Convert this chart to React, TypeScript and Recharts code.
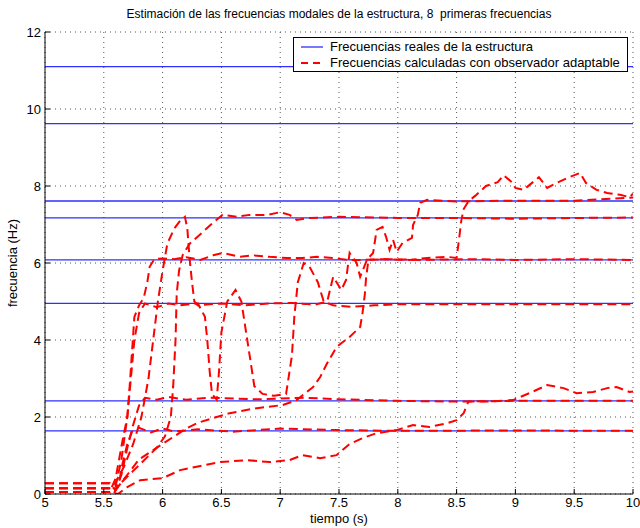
import { LineChart, Line, XAxis, YAxis, CartesianGrid, ReferenceLine } from "recharts"

const FONT = "'Liberation Sans', Arial, Helvetica, sans-serif"

const TITLE = "Estimación de las frecuencias modales de la estructura, 8  primeras frecuencias"
const X_LABEL = "tiempo (s)"
const Y_LABEL = "frecuencia (Hz)"
const LEGEND_REAL = "Frecuencias reales de la estructura"
const LEGEND_EST = "Frecuencias calculadas con observador adaptable"

const TIME_TICKS = [5, 5.5, 6, 6.5, 7, 7.5, 8, 8.5, 9, 9.5, 10]
const FREQ_TICKS = [0, 2, 4, 6, 8, 10, 12]

// natural frequencies of the structure (Hz)
const realFreqs = [1.64, 2.42, 4.95, 6.08, 7.17, 7.61, 9.62, 11.1]

// observer estimates, [time (s), frequency (Hz)]
const est1: [number, number][] = [
  [5, 0.15], [5.55, 0.15], [5.59, 0.05], [5.63, 0.3], [5.66, 0.8], [5.7, 1.3], [5.74, 1.62],
  [5.8, 1.72], [5.9, 1.6], [6.0, 1.7], [6.1, 1.62], [6.3, 1.68], [6.6, 1.62], [7.0, 1.7],
  [7.5, 1.66], [8.0, 1.64], [9.0, 1.65], [10, 1.64],
]

const est2: [number, number][] = [
  [5, 0.28], [5.55, 0.28], [5.6, 0.1], [5.65, 0.5], [5.7, 1.2], [5.75, 1.8], [5.8, 2.3],
  [5.85, 2.5], [5.95, 2.45], [6.05, 2.52], [6.2, 2.45], [6.4, 2.5], [6.8, 2.46], [7.2, 2.5],
  [7.5, 2.46], [8.0, 2.42], [8.5, 2.4], [9, 2.42], [10, 2.42],
]

const est3: [number, number][] = [
  [5, 0.05], [5.55, 0.05], [5.62, 0.0], [5.7, 0.18], [5.81, 0.36], [6.0, 0.41], [6.15, 0.62],
  [6.29, 0.71], [6.49, 0.83], [6.72, 0.88], [6.91, 0.83], [7.08, 0.88], [7.19, 1.01],
  [7.34, 0.93], [7.48, 1.01], [7.59, 1.3], [7.7, 1.45], [7.82, 1.58], [7.99, 1.66],
  [8.13, 1.79], [8.27, 1.74], [8.42, 1.84], [8.5, 1.92], [8.56, 2.1], [8.6, 2.4], [8.76, 2.4],
  [8.98, 2.44], [9.12, 2.62], [9.27, 2.83], [9.41, 2.75], [9.52, 2.62], [9.66, 2.65],
  [9.78, 2.75], [9.86, 2.78], [9.97, 2.65], [10, 2.66],
]

const est4: [number, number][] = [
  [5, 0.15], [5.55, 0.15], [5.6, 0.2], [5.65, 0.9], [5.7, 2.0], [5.73, 3.0], [5.76, 4.0],
  [5.8, 4.7], [5.85, 4.95], [5.95, 4.85], [6.05, 4.95], [6.15, 4.9], [6.3, 4.95], [6.36, 4.6],
  [6.38, 4.0], [6.4, 3.2], [6.42, 2.6], [6.46, 2.45], [6.48, 3.2], [6.5, 4.2], [6.55, 5.0],
  [6.62, 5.3], [6.67, 5.0], [6.7, 4.4], [6.74, 3.6], [6.78, 2.8], [6.85, 2.6], [6.95, 2.55],
  [7.05, 2.6], [7.1, 3.6], [7.12, 4.6], [7.15, 5.5], [7.2, 6.0], [7.25, 5.9], [7.32, 5.5],
  [7.37, 5.0], [7.45, 4.9], [7.6, 4.86], [7.8, 4.9], [8.0, 4.93], [9.0, 4.93], [10, 4.93],
]

const est5: [number, number][] = [
  [5, 0.05], [5.55, 0.05], [5.6, 0.4], [5.63, 0.9], [5.66, 1.4], [5.7, 2.0], [5.72, 2.8],
  [5.74, 3.7], [5.76, 4.6], [5.8, 4.9], [5.84, 5.1], [5.87, 5.5], [5.89, 5.9], [5.93, 6.1],
  [6.0, 6.12], [6.1, 6.1], [6.2, 6.15], [6.32, 6.08], [6.43, 6.2], [6.51, 6.26], [6.66, 6.16],
  [6.77, 6.2], [6.91, 6.16], [7.06, 6.13], [7.19, 6.13], [7.31, 6.16], [7.45, 6.13],
  [7.57, 6.08], [7.68, 6.08], [7.9, 6.1], [8.1, 6.08], [8.25, 6.13], [8.42, 6.16], [8.5, 6.13],
  [8.52, 6.6], [8.54, 7.1], [8.56, 7.4], [8.6, 7.6], [8.66, 7.75], [8.75, 8.0], [8.85, 8.1],
  [8.9, 8.28], [8.97, 8.1], [9.0, 7.95], [9.07, 7.9], [9.2, 8.23], [9.27, 7.95], [9.35, 8.08],
  [9.46, 8.23], [9.55, 8.34], [9.6, 8.08], [9.69, 7.9], [9.78, 7.82], [9.89, 7.77],
  [9.97, 7.71], [10, 7.8],
]

const est6: [number, number][] = [
  [5, 0.28], [5.55, 0.28], [5.6, 0.1], [5.65, 0.3], [5.75, 0.6], [5.85, 0.9], [5.95, 1.2],
  [6.02, 1.5], [6.07, 2.0], [6.09, 2.8], [6.11, 4.0], [6.12, 5.2], [6.14, 5.8], [6.17, 6.2],
  [6.23, 6.5], [6.34, 6.8], [6.43, 7.05], [6.51, 7.25], [6.63, 7.2], [6.74, 7.25],
  [6.89, 7.25], [7.0, 7.32], [7.08, 7.25], [7.14, 7.12], [7.25, 7.17], [7.5, 7.2], [8.0, 7.17],
  [8.5, 7.17], [9, 7.15], [9.5, 7.17], [10, 7.18],
]

const est7: [number, number][] = [
  [5, 0.15], [5.55, 0.15], [5.6, 0.3], [5.67, 0.7], [5.75, 1.3], [5.82, 2.0], [5.88, 3.0],
  [5.92, 4.0], [5.96, 5.0], [6.0, 5.8], [6.04, 6.5], [6.1, 6.9], [6.15, 7.1], [6.19, 7.2],
  [6.21, 6.9], [6.23, 6.1], [6.25, 5.5], [6.27, 5.0], [6.3, 4.9], [6.5, 4.95], [6.7, 4.9],
  [6.9, 4.95], [7.1, 4.96], [7.3, 4.92], [7.4, 5.0], [7.45, 5.64], [7.52, 5.3], [7.56, 5.56],
  [7.59, 6.26], [7.65, 6.0], [7.68, 5.64], [7.74, 6.1], [7.79, 6.26], [7.82, 6.86],
  [7.87, 6.94], [7.9, 6.68], [7.93, 6.34], [7.96, 6.6], [7.99, 6.29], [8.04, 6.52],
  [8.12, 6.65], [8.13, 6.99], [8.17, 7.25], [8.19, 7.56], [8.25, 7.64], [8.5, 7.6],
  [9, 7.62], [9.5, 7.62], [10, 7.7],
]

const est8: [number, number][] = [
  [5, 0.05], [5.55, 0.05], [5.6, 0.1], [5.7, 0.5], [5.8, 0.9], [5.9, 1.1], [6.0, 1.3],
  [6.1, 1.5], [6.2, 1.7], [6.3, 1.85], [6.46, 2.0], [6.57, 2.1], [6.8, 2.23], [7.02, 2.31],
  [7.14, 2.44], [7.28, 2.78], [7.34, 3.04], [7.4, 3.4], [7.48, 3.82], [7.59, 4.08],
  [7.68, 4.34], [7.7, 4.7], [7.72, 5.2], [7.73, 5.6], [7.75, 6.08], [7.9, 6.1], [8.2, 6.08],
  [8.6, 6.1], [9, 6.08], [9.5, 6.1], [10, 6.08],
]

const estimates = [est1, est2, est3, est4, est5, est6, est7, est8]

const toPoints = (pairs: [number, number][]) => pairs.map(([t, f]) => ({ t, f }))

const tickStyle = { fontSize: 13, fill: "#000", fontFamily: FONT }

export default function App() {
  return (
    <div style={{ position: "absolute", left: 0, top: 0, width: 640, height: 528, background: "#fff", fontFamily: FONT }}>
      <LineChart width={640} height={528} margin={{ top: 32, right: 7, bottom: 14, left: 5 }}>
        <CartesianGrid stroke="#555" strokeDasharray="1 4" />
        <XAxis
          dataKey="t"
          type="number"
          domain={[5, 10]}
          ticks={TIME_TICKS}
          allowDataOverflow
          height={20}
          tickSize={-5}
          tickMargin={9}
          tick={tickStyle}
          stroke="#000"
          interval={0}
        />
        <XAxis
          xAxisId="top"
          orientation="top"
          type="number"
          domain={[5, 10]}
          ticks={TIME_TICKS}
          height={0}
          tickSize={-5}
          tickFormatter={() => ""}
          stroke="#000"
          interval={0}
        />
        <YAxis
          dataKey="f"
          type="number"
          domain={[0, 12]}
          ticks={FREQ_TICKS}
          allowDataOverflow
          width={40}
          tickSize={-5}
          tickMargin={9}
          tick={tickStyle}
          stroke="#000"
          interval={0}
        />
        <YAxis
          yAxisId="right"
          orientation="right"
          type="number"
          domain={[0, 12]}
          ticks={FREQ_TICKS}
          width={0}
          tickSize={-5}
          tickFormatter={() => ""}
          stroke="#000"
          interval={0}
        />
        {realFreqs.map((f) => (
          <ReferenceLine key={f} y={f} stroke="#2f2fff" strokeWidth={1.3} />
        ))}
        {estimates.map((est, i) => (
          <Line
            key={i}
            data={toPoints(est)}
            dataKey="f"
            type="linear"
            stroke="#ff0000"
            strokeWidth={2}
            strokeDasharray="9 5"
            dot={false}
            activeDot={false}
            isAnimationActive={false}
          />
        ))}
      </LineChart>

      <div style={{ position: "absolute", left: 45, width: 588, top: 7, textAlign: "center", fontSize: 12, whiteSpace: "pre" }}>
        {TITLE}
      </div>
      <div style={{ position: "absolute", left: 45, width: 588, top: 511, textAlign: "center", fontSize: 13 }}>
        {X_LABEL}
      </div>
      <div
        style={{
          position: "absolute",
          left: 12,
          top: 263,
          fontSize: 13,
          whiteSpace: "nowrap",
          transform: "translate(-50%, -50%) rotate(-90deg)",
        }}
      >
        {Y_LABEL}
      </div>

      <div
        style={{
          position: "absolute",
          left: 293,
          top: 37,
          width: 333,
          height: 33,
          border: "1px solid #000",
          background: "#fff",
          fontSize: 13,
        }}
      >
        <svg width={30} height={33} style={{ position: "absolute", left: 0, top: 0 }}>
          <line x1={7} x2={29} y1={9} y2={9} stroke="#2f2fff" strokeWidth={1.3} />
          <line x1={7} x2={29} y1={25} y2={25} stroke="#ff0000" strokeWidth={2} strokeDasharray="7 5" />
        </svg>
        <div style={{ position: "absolute", left: 36, top: 1, lineHeight: "16px", whiteSpace: "nowrap" }}>{LEGEND_REAL}</div>
        <div style={{ position: "absolute", left: 36, top: 17, lineHeight: "16px", whiteSpace: "nowrap" }}>{LEGEND_EST}</div>
      </div>
    </div>
  )
}
